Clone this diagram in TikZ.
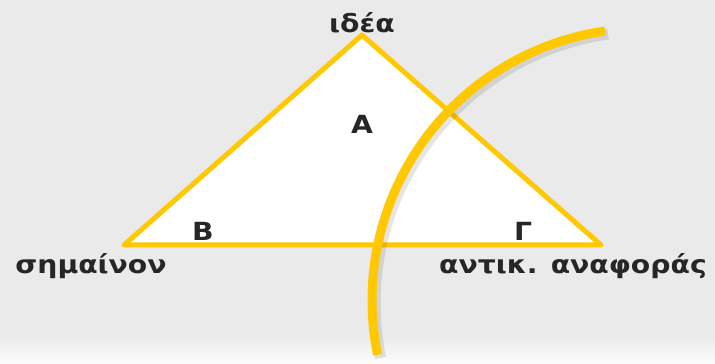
\documentclass[tikz,border=0pt]{standalone}
\usepackage{fontspec}
\setmainfont{DejaVu Sans}
\usepackage{xcolor}
\usepackage{tikz}
\definecolor{sunyellow}{HTML}{FFC800}
\definecolor{paper}{HTML}{EAEAEA}
\definecolor{ink}{HTML}{262626}

\begin{document}
\begin{tikzpicture}[
x=1pt, y=1pt,
label/.style={text=ink, font=\fontsize{25}{30}\selectfont\bfseries, anchor=base, inner sep=0pt, xscale=1.13},
edge/.style={draw=sunyellow, line width=5pt, line join=round, fill=white},
arc/.style={draw=sunyellow, line width=9pt},
shadow/.style={draw=black, opacity=0.1, line width=11pt}
]

% background
\fill[paper] (0,0) rectangle (715,364);
\shade[top color=paper, bottom color=white!85!paper] (0,0) rectangle (715,28);
\useasboundingbox (0,0) rectangle (715,364);

\coordinate (top) at (362,329);
\coordinate (left) at (124,119);
\coordinate (right) at (601,119);
\coordinate (cut) at (605,333);

\draw[edge] (top) -- (left) -- (right) -- cycle;

\draw[shadow] ([shift={(3,-3)}]cut) arc[start angle=98.25, end angle=191.6, radius=272];
\draw[arc] (cut) arc[start angle=98.25, end angle=191.6, radius=272];

\node[label] (idea) at (362,331) {ιδέα};
\node[label] (a) at (362,230) {Α};
\node[label] (b) at (203,123) {Β};
\node[label] (g) at (523,123) {Γ};
\node[label] (sign) at (91,90) {σημαίνον};
\node[label] (ref) at (573,90) {αντικ. αναφοράς};

\end{tikzpicture}
\end{document}
